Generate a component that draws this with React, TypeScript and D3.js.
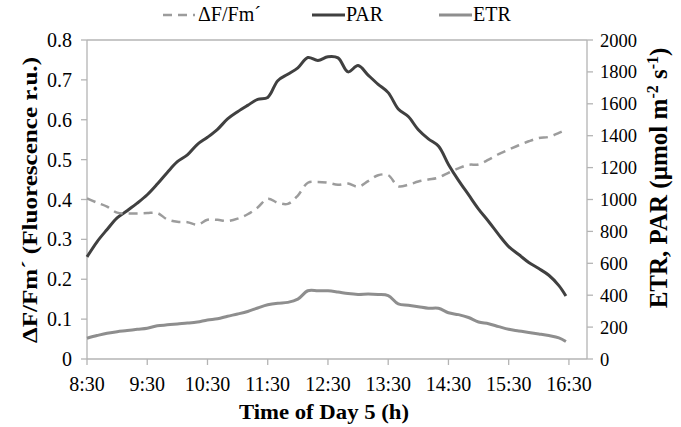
import React from "react";
import * as d3 from "d3";

const times = [
  "8:30","8:40","8:50","9:00","9:10","9:20","9:30","9:40","9:50","10:00",
  "10:10","10:20","10:30","10:40","10:50","11:00","11:10","11:20","11:30","11:40",
  "11:50","12:00","12:10","12:20","12:30","12:40","12:50","13:00","13:10","13:20",
  "13:30","13:40","13:50","14:00","14:10","14:20","14:30","14:40","14:50","15:00",
  "15:10","15:20","15:30","15:40","15:50","16:00","16:10","16:20","16:27",
];

const yieldValues = [
  0.403,0.392,0.382,0.367,0.365,0.365,0.366,0.366,0.350,0.344,
  0.343,0.337,0.349,0.349,0.346,0.352,0.363,0.380,0.402,0.392,
  0.389,0.410,0.442,0.444,0.442,0.437,0.440,0.432,0.446,0.461,
  0.461,0.433,0.437,0.445,0.450,0.455,0.467,0.478,0.487,0.488,
  0.500,0.514,0.525,0.536,0.546,0.554,0.557,0.567,0.575,
];

const parValues = [
  640,735,812,885,930,977,1030,1097,1170,1237,
  1280,1346,1390,1440,1505,1550,1590,1628,1640,1745,
  1785,1825,1890,1872,1895,1888,1800,1840,1780,1722,
  1670,1568,1520,1437,1380,1335,1220,1120,1030,940,
  862,780,705,655,605,567,525,460,395,
];

const etrValues = [
  130,147,162,171,178,186,193,208,214,220,
  225,232,245,252,268,282,298,320,340,350,
  355,375,428,428,428,420,410,405,407,405,
  398,345,337,328,318,318,290,278,260,232,
  221,203,186,176,166,157,147,133,110,
];

const xTickLabels = ["8:30","9:30","10:30","11:30","12:30","13:30","14:30","15:30","16:30"];
const leftTicks = [0,0.1,0.2,0.3,0.4,0.5,0.6,0.7,0.8];
const rightTicks = [0,200,400,600,800,1000,1200,1400,1600,1800,2000];

const toHours = (s: string) => {
  const [h, m] = s.split(":").map(Number);
  return h + m / 60;
};

export default function App() {
  const W = 681, H = 427;
  const left = 87, right = 587, top = 40, bottom = 359;
  const x = d3.scaleLinear().domain([8.5, 16.8]).range([left, right]);
  const yL = d3.scaleLinear().domain([0, 0.8]).range([bottom, top]);
  const yR = d3.scaleLinear().domain([0, 2000]).range([bottom, top]);
  const hrs = times.map(toHours);
  const curve = d3.curveCatmullRom.alpha(0.5);
  const lineL = d3.line<number>().x((_, i) => x(hrs[i])).y((d) => yL(d)).curve(curve);
  const lineR = d3.line<number>().x((_, i) => x(hrs[i])).y((d) => yR(d)).curve(curve);
  const axisColor = "#b4b4b4";
  const font = '"Liberation Serif", "DejaVu Serif", "Times New Roman", Times, serif';
  const dark = "#404040";
  const light = "#8e8e8e";
  const dashC = "#9c9c9c";
  const ts = { fontFamily: font };

  return (
    <svg width={W} height={H} style={{ position: "absolute", left: 0, top: 0, background: "#fff" }}>
      <g style={ts}>
      {/* frame */}
      <line x1={left} x2={right} y1={top} y2={top} stroke={axisColor} strokeWidth={1.3} />
      <line x1={left} x2={right} y1={bottom} y2={bottom} stroke={axisColor} strokeWidth={1.3} />
      <line x1={left} x2={left} y1={top} y2={bottom} stroke={axisColor} strokeWidth={1.3} />
      <line x1={right} x2={right} y1={top} y2={bottom} stroke={axisColor} strokeWidth={1.3} />
      {leftTicks.map((t) => (
        <g key={"l" + t}>
          <line x1={left - 6} x2={left} y1={yL(t)} y2={yL(t)} stroke={axisColor} strokeWidth={1.3} />
          <text style={ts} x={72} y={yL(t) + 7} textAnchor="end" fontSize={20}>{t === 0 ? "0" : t.toFixed(1)}</text>
        </g>
      ))}
      {rightTicks.map((t) => (
        <g key={"r" + t}>
          <line x1={right} x2={right + 6} y1={yR(t)} y2={yR(t)} stroke={axisColor} strokeWidth={1.3} />
          <text style={ts} x={600} y={yR(t) + 6.5} textAnchor="start" fontSize={18.5}>{t}</text>
        </g>
      ))}
      {xTickLabels.map((s) => (
        <g key={"x" + s}>
          <line x1={x(toHours(s))} x2={x(toHours(s))} y1={bottom} y2={bottom + 6} stroke={axisColor} strokeWidth={1.3} />
          <text style={ts} x={x(toHours(s))} y={391} textAnchor="middle" fontSize={20}>{s}</text>
        </g>
      ))}
      {/* series */}
      <path d={lineR(etrValues) || ""} fill="none" stroke={light} strokeWidth={3} strokeLinejoin="round" />
      <path d={lineR(parValues) || ""} fill="none" stroke={dark} strokeWidth={3} strokeLinejoin="round" />
      <path d={lineL(yieldValues) || ""} fill="none" stroke={dashC} strokeWidth={2.5} strokeDasharray="9,6" />
      {/* axis titles */}
      <text style={ts} x={324} y={419} textAnchor="middle" fontSize={22} fontWeight="bold" textLength={170} lengthAdjust="spacingAndGlyphs">Time of Day 5 (h)</text>
      <text style={ts} transform="translate(37,200) rotate(-90)" textAnchor="middle" fontSize={22} fontWeight="bold" textLength={286} lengthAdjust="spacingAndGlyphs">ΔF/Fm´ (Fluorescence r.u.)</text>
      <text style={ts} transform="translate(667,178) rotate(-90)" textAnchor="middle" fontSize={25} fontWeight="bold">
        ETR, PAR (µmol m<tspan fontSize={16} dy={-9}>-2</tspan><tspan dy={9}> s</tspan><tspan fontSize={16} dy={-9}>-1</tspan><tspan dy={9}>)</tspan>
      </text>
      {/* legend */}
      <line x1={163} x2={195} y1={15} y2={15} stroke={dashC} strokeWidth={2.5} strokeDasharray="9,6" />
      <text style={ts} x={198} y={21} fontSize={20}>ΔF/Fm´</text>
      <line x1={312} x2={345} y1={15} y2={15} stroke={dark} strokeWidth={3} />
      <text style={ts} x={346} y={21} fontSize={20}>PAR</text>
      <line x1={439} x2={472} y1={15} y2={15} stroke={light} strokeWidth={3} />
      <text style={ts} x={473} y={21} fontSize={20}>ETR</text>
      </g>
    </svg>
  );
}
